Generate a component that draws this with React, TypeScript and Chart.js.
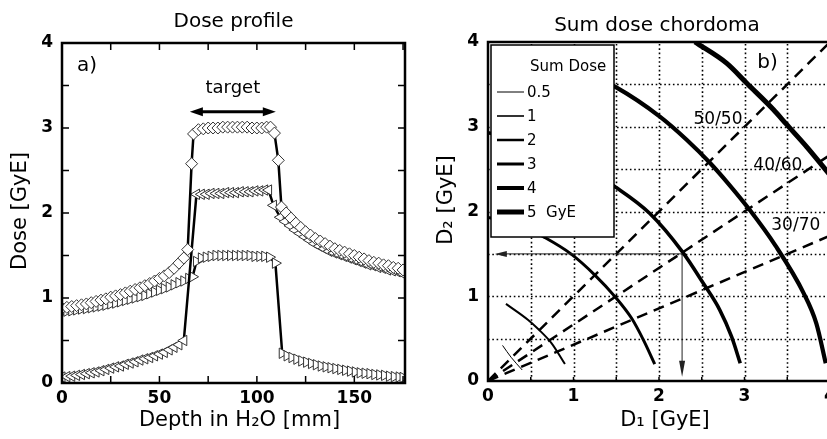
import React, { useEffect, useRef } from 'react';
import { Chart, registerables } from 'chart.js';

Chart.register(...registerables);

const FONT = '"DejaVu Sans", "Liberation Sans", sans-serif';

// ---------------- Panel a) Dose profile ----------------
const titleA = 'Dose profile';
const xTitleA = 'Depth in H\u2082O [mm]';
const yTitleA = 'Dose [GyE]';

// open diamonds (total dose)
const diamondDepth = [
  0, 2.5, 5, 7.5, 10, 12.5, 15, 17.5, 20, 22.5, 25, 27.5, 30, 32.5, 35, 37.5, 40, 42.5, 45, 47.5, 50, 52.5, 55, 57.5, 60, 62.5,
  64.5, 66.5, 67.5,
  70, 72.5, 75, 77.5, 80, 82.5, 85, 87.5, 90, 92.5, 95, 97.5, 100, 102.5, 105, 107,
  109, 111, 112.6,
  115, 117.5, 120, 122.5, 125, 127.5, 130, 132.5, 135, 137.5, 140, 142.5, 145, 147.5, 150, 152.5, 155, 157.5, 160, 162.5, 165, 167.5, 170, 172.5, 175,
];
const diamondDose = [
  0.88, 0.89, 0.9, 0.91, 0.92, 0.93, 0.945, 0.96, 0.975, 0.99, 1.01, 1.025, 1.04, 1.06, 1.08, 1.1, 1.12, 1.145, 1.17, 1.2, 1.23, 1.26, 1.3, 1.35, 1.41, 1.47,
  1.57, 2.58, 2.93,
  2.98, 2.99, 3.0, 3.0, 3.0, 3.01, 3.01, 3.01, 3.01, 3.01, 3.01, 3.0, 3.0, 3.0, 3.01, 3.01,
  2.94, 2.62, 2.07,
  2.0, 1.94, 1.88, 1.83, 1.78, 1.74, 1.7, 1.67, 1.64, 1.61, 1.58, 1.56, 1.54, 1.52, 1.5, 1.48, 1.46, 1.44, 1.42, 1.41, 1.39, 1.38, 1.36, 1.35, 1.33,
];

// left-pointing triangles (field from the left)
const leftTriDepth = [
  0, 2.5, 5, 7.5, 10, 12.5, 15, 17.5, 20, 22.5, 25, 27.5, 30, 32.5, 35, 37.5, 40, 42.5, 45, 47.5, 50, 52.5, 55, 57.5, 60, 62.5,
  69, 71.5, 74, 76.5, 79, 81.5, 84, 86.5, 89, 91.5, 94, 96.5, 99, 101.5, 104, 106, 108.5,
  112, 114.5, 117, 119.5, 122, 124.5, 127, 129.5, 132, 134.5, 137, 139.5, 142, 144.5, 147, 149.5, 152, 154.5, 157, 159.5, 162, 164.5, 167, 169.5, 172, 174.5,
];
const leftTriDose = [
  0.07, 0.075, 0.08, 0.09, 0.1, 0.11, 0.12, 0.13, 0.145, 0.16, 0.175, 0.19, 0.2, 0.22, 0.235, 0.25, 0.27, 0.285, 0.3, 0.32, 0.34, 0.36, 0.39, 0.42, 0.45, 0.5,
  2.22, 2.22, 2.22, 2.23, 2.23, 2.23, 2.24, 2.24, 2.24, 2.25, 2.25, 2.25, 2.26, 2.26, 2.27, 2.27, 2.09,
  1.95, 1.9, 1.85, 1.8, 1.76, 1.72, 1.68, 1.64, 1.61, 1.58, 1.55, 1.53, 1.51, 1.49, 1.47, 1.45, 1.43, 1.41, 1.39, 1.38, 1.36, 1.35, 1.33, 1.32, 1.31, 1.29,
];

// right-pointing triangles (field from the right)
const rightTriDepth = [
  0, 2.5, 5, 7.5, 10, 12.5, 15, 17.5, 20, 22.5, 25, 27.5, 30, 32.5, 35, 37.5, 40, 42.5, 45, 47.5, 50, 52.5, 55, 57.5, 60, 62.5, 65,
  67, 69,
  71.5, 74, 76.5, 79, 81.5, 84, 86.5, 89, 91.5, 94, 96.5, 99, 101.5, 104, 106.5,
  109.5, 113,
  115.5, 118, 120.5, 123, 125.5, 128, 130.5, 133, 135.5, 138, 140.5, 143, 145.5, 148, 150.5, 153, 155.5, 158, 160.5, 163, 165.5, 168, 170.5, 173, 175,
];
const rightTriDose = [
  0.84, 0.845, 0.85, 0.86, 0.87, 0.875, 0.885, 0.895, 0.905, 0.915, 0.93, 0.94, 0.955, 0.97, 0.985, 1.0, 1.015, 1.03, 1.05, 1.07, 1.09, 1.11, 1.13, 1.155, 1.18, 1.2, 1.23,
  1.25, 1.43,
  1.47, 1.48, 1.49, 1.5, 1.5, 1.5, 1.5, 1.5, 1.5, 1.5, 1.5, 1.49, 1.49, 1.49, 1.48,
  1.41, 0.35,
  0.32, 0.3, 0.28, 0.26, 0.245, 0.23, 0.215, 0.2, 0.19, 0.18, 0.17, 0.16, 0.15, 0.14, 0.13, 0.12, 0.115, 0.11, 0.1, 0.095, 0.09, 0.08, 0.075, 0.07, 0.065,
];

const targetFrom = 65.6;
const targetTo = 109.7;
const targetLevel = 3.19;

// ---------------- Panel b) Sum dose chordoma ----------------
const titleB = 'Sum dose chordoma';
const xTitleB = 'D\u2081 [GyE]';
const yTitleB = 'D\u2082 [GyE]';
const legendTitle = 'Sum Dose';
const sumDoseLabels = ['0.5', '1', '2', '3', '4', '5  GyE'];

const iso05D1 = [0.17, 0.27, 0.4];
const iso05D2 = [0.42, 0.28, 0.13];
const iso1D1 = [0.21, 0.47, 0.59, 0.74, 0.9];
const iso1D2 = [0.91, 0.72, 0.61, 0.45, 0.2];
const iso2D1 = [0, 0.35, 0.67, 0.97, 1.25, 1.49, 1.68, 1.82, 1.95];
const iso2D2 = [1.93, 1.85, 1.69, 1.5, 1.25, 0.99, 0.74, 0.48, 0.2];
const iso3D1 = [0, 0.8, 1.49, 1.89, 2.27, 2.52, 2.71, 2.85, 2.95];
const iso3D2 = [2.93, 2.72, 2.29, 1.98, 1.53, 1.15, 0.84, 0.52, 0.21];
const iso4D1 = [0.6, 1.0, 1.49, 2.01, 2.32, 2.6, 2.81, 3.06, 3.36, 3.69, 3.84, 3.95];
const iso4D2 = [3.85, 3.7, 3.47, 3.12, 2.85, 2.57, 2.33, 2.02, 1.6, 1.04, 0.68, 0.21];
const iso5D1 = [2.42, 2.79, 3.03, 3.34, 3.49, 3.73, 4.0];
const iso5D2 = [4.0, 3.75, 3.51, 3.2, 3.03, 2.76, 2.43];

const ratioLabels = ['50/50', '40/60', '30/70'];
const ratioEndD1 = [4, 4, 4];
const ratioEndD2 = [4, 2.667, 1.714];

const readD1 = 2.27;
const readD2 = 1.5;

const toPoints = (xs: number[], ys: number[]) => xs.map((x, i) => ({ x, y: ys[i] }));

function drawArrowHead(ctx: CanvasRenderingContext2D, tx: number, ty: number, dx: number, dy: number, len: number, half: number) {
  const l = Math.hypot(dx, dy);
  const ux = dx / l;
  const uy = dy / l;
  const bx = tx - ux * len;
  const by = ty - uy * len;
  ctx.beginPath();
  ctx.moveTo(tx, ty);
  ctx.lineTo(bx - uy * half, by + ux * half);
  ctx.lineTo(bx + uy * half, by - ux * half);
  ctx.closePath();
  ctx.fill();
}

const panelAPlugin = {
  id: 'panelA',
  afterDraw(chart: any) {
    const { ctx, chartArea: a, scales } = chart;
    const x = scales.x;
    const y = scales.y;
    ctx.save();
    ctx.strokeStyle = '#000';
    ctx.fillStyle = '#000';
    ctx.lineWidth = 2.5;
    ctx.strokeRect(a.left, a.top, a.right - a.left, a.bottom - a.top);
    ctx.lineWidth = 1.5;
    for (let v = 25; v < 176; v += 25) {
      const px = x.getPixelForValue(v);
      ctx.beginPath();
      ctx.moveTo(px, a.bottom);
      ctx.lineTo(px, a.bottom - 7);
      ctx.moveTo(px, a.top);
      ctx.lineTo(px, a.top + 7);
      ctx.stroke();
    }
    for (let v = 0.5; v < 4; v += 0.5) {
      const py = y.getPixelForValue(v);
      ctx.beginPath();
      ctx.moveTo(a.left, py);
      ctx.lineTo(a.left + 7, py);
      ctx.moveTo(a.right, py);
      ctx.lineTo(a.right - 7, py);
      ctx.stroke();
    }
    // titles
    ctx.textAlign = 'center';
    ctx.textBaseline = 'middle';
    ctx.font = `20px ${FONT}`;
    ctx.fillText(titleA, (a.left + a.right) / 2, 22);
    ctx.font = `21px ${FONT}`;
    ctx.fillText(xTitleA, (a.left + a.right) / 2 + 6, 421);
    ctx.save();
    ctx.translate(21, 211);
    ctx.rotate(-Math.PI / 2);
    ctx.fillText(yTitleA, 0, 0);
    ctx.restore();
    // a)
    ctx.font = `20px ${FONT}`;
    ctx.textAlign = 'left';
    ctx.fillText('a)', a.left + 15, 66);
    // target arrow
    const x1 = x.getPixelForValue(targetFrom);
    const x2 = x.getPixelForValue(targetTo);
    const yy = y.getPixelForValue(targetLevel);
    ctx.lineWidth = 3;
    ctx.beginPath();
    ctx.moveTo(x1 + 8, yy);
    ctx.lineTo(x2 - 8, yy);
    ctx.stroke();
    drawArrowHead(ctx, x1, yy, -1, 0, 13, 4.5);
    drawArrowHead(ctx, x2, yy, 1, 0, 13, 4.5);
    ctx.textAlign = 'center';
    ctx.font = `18px ${FONT}`;
    ctx.fillText('target', (x1 + x2) / 2, yy - 24);
    ctx.restore();
  },
};

const panelBGridPlugin = {
  id: 'panelBGrid',
  beforeDatasetsDraw(chart: any) {
    const { ctx, chartArea: a, scales } = chart;
    const x = scales.x;
    const y = scales.y;
    ctx.save();
    ctx.strokeStyle = '#000';
    ctx.lineWidth = 1.6;
    ctx.setLineDash([1.6, 2.7]);
    for (let v = 0.5; v < 4; v += 0.5) {
      const px = Math.round(x.getPixelForValue(v)) + 0.5;
      ctx.beginPath();
      ctx.moveTo(px, a.bottom);
      ctx.lineTo(px, a.top);
      ctx.stroke();
      const py = Math.round(y.getPixelForValue(v)) + 0.5;
      ctx.beginPath();
      ctx.moveTo(a.left, py);
      ctx.lineTo(a.right, py);
      ctx.stroke();
    }
    ctx.restore();
  },
};

const panelBPlugin = {
  id: 'panelB',
  afterDatasetsDraw(chart: any) {
    const { ctx, chartArea: a, scales } = chart;
    const x = scales.x;
    const y = scales.y;
    ctx.save();
    ctx.strokeStyle = '#000';
    ctx.fillStyle = '#000';
    // frame
    ctx.lineWidth = 2.5;
    ctx.strokeRect(a.left, a.top, a.right - a.left, a.bottom - a.top);
    ctx.lineWidth = 1.5;
    for (let v = 0.5; v < 4; v += 0.5) {
      const px = x.getPixelForValue(v);
      ctx.beginPath();
      ctx.moveTo(px, a.bottom);
      ctx.lineTo(px, a.bottom - 4);
      ctx.stroke();
    }
    // reading arrows
    const cx = x.getPixelForValue(readD1);
    const cy = y.getPixelForValue(readD2);
    const hx = x.getPixelForValue(0.08);
    const vy = y.getPixelForValue(0.05);
    ctx.strokeStyle = '#222';
    ctx.fillStyle = '#222';
    ctx.lineWidth = 1;
    ctx.beginPath();
    ctx.moveTo(cx, cy);
    ctx.lineTo(hx + 8, cy);
    ctx.moveTo(cx, cy);
    ctx.lineTo(cx, vy - 10);
    ctx.stroke();
    drawArrowHead(ctx, hx, cy, -1, 0, 12, 3);
    drawArrowHead(ctx, cx, vy, 0, 1, 16, 3);
    // legend box
    const lx = a.left + 3;
    const ly = a.top + 3;
    const lw = 123;
    const lh = 192;
    ctx.fillStyle = '#fff';
    ctx.fillRect(lx, ly, lw, lh);
    ctx.strokeStyle = '#000';
    ctx.lineWidth = 1.5;
    ctx.strokeRect(lx, ly, lw, lh);
    ctx.fillStyle = '#000';
    ctx.textAlign = 'left';
    ctx.textBaseline = 'middle';
    ctx.font = `15px ${FONT}`;
    ctx.fillText(legendTitle, lx + 39, ly + 22);
    const widths = [1, 1.6, 2.5, 3, 4, 5];
    sumDoseLabels.forEach((lab, i) => {
      const ry = ly + 47 + i * 24;
      ctx.lineWidth = widths[i];
      ctx.beginPath();
      ctx.moveTo(lx + 6, ry);
      ctx.lineTo(lx + 33, ry);
      ctx.stroke();
      ctx.fillText(lab, lx + 36, ry + 1);
    });
    // ratio labels
    ctx.font = `17px ${FONT}`;
    ctx.textAlign = 'center';
    const lpos = [
      [2.69, 3.08],
      [3.39, 2.54],
      [3.6, 1.83],
    ];
    ratioLabels.forEach((lab, i) => {
      ctx.fillText(lab, x.getPixelForValue(lpos[i][0]), y.getPixelForValue(lpos[i][1]));
    });
    ctx.font = `20px ${FONT}`;
    ctx.fillText('b)', x.getPixelForValue(3.27), y.getPixelForValue(3.75));
    // titles
    ctx.font = `20px ${FONT}`;
    ctx.fillText(titleB, a.left + 169, 26);
    ctx.font = `21px ${FONT}`;
    ctx.fillText(xTitleB, a.left + 177, 421);
    ctx.save();
    ctx.translate(a.left - 41, 200);
    ctx.rotate(-Math.PI / 2);
    ctx.fillText(yTitleB, 0, 0);
    ctx.restore();
    ctx.restore();
  },
};

const tickFont = { family: FONT, size: 17, weight: 'bold' as const };

export default function App() {
  const refA = useRef<HTMLCanvasElement>(null);
  const refB = useRef<HTMLCanvasElement>(null);

  useEffect(() => {
    const markerBase = {
      showLine: true,
      borderColor: '#000',
      borderWidth: 2.5,
      pointRadius: 6,
      pointBackgroundColor: '#fff',
      pointBorderColor: '#333',
      pointBorderWidth: 1,
      tension: 0,
    };
    const chartA = new Chart(refA.current!, {
      type: 'line',
      data: {
        datasets: [
          { ...markerBase, data: toPoints(diamondDepth, diamondDose), pointStyle: 'rectRot', pointRadius: 6 },
          { ...markerBase, data: toPoints(leftTriDepth, leftTriDose), pointStyle: 'triangle', pointRotation: 270 },
          { ...markerBase, data: toPoints(rightTriDepth, rightTriDose), pointStyle: 'triangle', pointRotation: 90 },
        ],
      },
      options: {
        animation: false,
        responsive: false,
        devicePixelRatio: 1,
        events: [],
        layout: { padding: { top: 43, left: 0, right: 15, bottom: 0 } },
        plugins: { legend: { display: false }, tooltip: { enabled: false } },
        scales: {
          x: {
            type: 'linear',
            min: 0,
            max: 176,
            afterFit: (s: any) => {
              s.height = 56;
            },
            grid: { display: false, drawTicks: false },
            border: { display: false },
            ticks: { stepSize: 50, includeBounds: false, font: tickFont, color: '#000', padding: 5, maxRotation: 0 },
          },
          y: {
            type: 'linear',
            min: 0,
            max: 4,
            afterFit: (s: any) => {
              s.width = 62;
            },
            grid: { display: false, drawTicks: false },
            border: { display: false },
            ticks: { stepSize: 1, font: tickFont, color: '#000', padding: 9 },
          },
        },
      } as any,
      plugins: [panelAPlugin],
    });

    const curve = (xs: number[], ys: number[], w: number) => ({
      data: toPoints(xs, ys),
      borderColor: '#000',
      borderWidth: w,
      pointRadius: 0,
      cubicInterpolationMode: 'monotone',
      fill: false,
    });
    const dashed = (i: number) => ({
      data: toPoints([0, ratioEndD1[i]], [0, ratioEndD2[i]]),
      borderColor: '#000',
      borderWidth: 2.5,
      borderDash: [11, 7],
      pointRadius: 0,
      fill: false,
    });
    const chartB = new Chart(refB.current!, {
      type: 'line',
      data: {
        datasets: [
          curve(iso05D1, iso05D2, 1),
          curve(iso1D1, iso1D2, 2),
          curve(iso2D1, iso2D2, 3),
          curve(iso3D1, iso3D2, 3.6),
          curve(iso4D1, iso4D2, 4.2),
          curve(iso5D1, iso5D2, 5),
          dashed(0),
          dashed(1),
          dashed(2),
        ],
      },
      options: {
        animation: false,
        responsive: false,
        devicePixelRatio: 1,
        events: [],
        layout: { padding: { top: 42, left: 0, right: 15, bottom: 0 } },
        plugins: { legend: { display: false }, tooltip: { enabled: false } },
        scales: {
          x: {
            type: 'linear',
            min: 0,
            max: 4,
            afterFit: (s: any) => {
              s.height = 58;
            },
            grid: { display: false, drawTicks: false },
            border: { display: false },
            ticks: { stepSize: 1, font: tickFont, color: '#000', padding: 5, maxRotation: 0 },
          },
          y: {
            type: 'linear',
            min: 0,
            max: 4,
            afterFit: (s: any) => {
              s.width = 73;
            },
            grid: { display: false, drawTicks: false },
            border: { display: false },
            ticks: { stepSize: 1, font: tickFont, color: '#000', padding: 9 },
          },
        },
      } as any,
      plugins: [panelBGridPlugin, panelBPlugin],
    });
    return () => {
      chartA.destroy();
      chartB.destroy();
    };
  }, []);

  return (
    <div style={{ position: 'absolute', left: 0, top: 0, width: 827, height: 439, overflow: 'hidden', background: '#fff' }}>
      <canvas ref={refA} width={420} height={439} style={{ position: 'absolute', left: 0, top: 0, width: 420, height: 439 }} />
      <canvas ref={refB} width={430} height={439} style={{ position: 'absolute', left: 415, top: 0, width: 430, height: 439 }} />
    </div>
  );
}
